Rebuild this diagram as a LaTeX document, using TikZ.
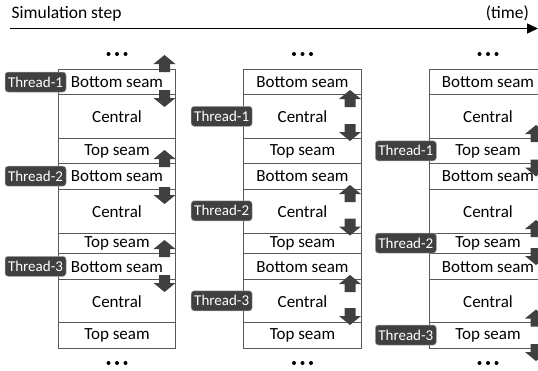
\documentclass[tikz,border=0pt]{standalone}
\usepackage{fontspec}
\setmainfont{Carlito}
\usetikzlibrary{arrows.meta}
\definecolor{boxline}{HTML}{595959}
\definecolor{dark}{HTML}{404040}
\tikzset{
 seg/.style={draw=boxline, line width=0.9pt, minimum width=117.5pt, inner sep=0pt,
   font=\fontsize{17}{19}\selectfont, anchor=north},
 thread/.style={fill=dark, draw=gray!70, line width=0.5pt, rounded corners=3pt, text=white,
   font=\fontsize{15}{17}\selectfont, minimum width=61pt, minimum height=20pt, inner sep=1pt},
 uparr/.pic={\fill[dark] (0,0) -- (11,9) -- (5.5,9) -- (5.5,17) -- (-5.5,17) -- (-5.5,9) -- (-11,9) -- cycle;},
 downarr/.pic={\fill[dark] (0,0) -- (11,-9) -- (5.5,-9) -- (5.5,-17) -- (-5.5,-17) -- (-5.5,-9) -- (-11,-9) -- cycle;},
 dots/.style={fill=black, draw=none, circle, minimum size=4pt, inner sep=0pt},
}
\begin{document}
\begin{tikzpicture}[x=1pt,y=-1pt]
\useasboundingbox (0,0) rectangle (538,370);
\clip (0,0) rectangle (538,370);
% time axis
\coordinate (t0) at (10,28.5);
\coordinate (t1) at (538,28.5);
\draw[line width=1.5pt, -{Triangle[length=11pt,width=10pt]}] (t0) -- (t1);
\node[anchor=base west, font=\fontsize{17.5}{19}\selectfont, inner sep=0pt] (simstep) at (11.5,18.5) {Simulation step};
\node[anchor=base east, font=\fontsize{17.5}{19}\selectfont, inner sep=0pt] (time) at (529,18.5) {(time)};
% columns
\foreach \cx/\c in {117/1, 302.5/2, 488/3} {
  \node[seg, minimum height=25pt]   (c\c r1) at (\cx,69.3)  {Bottom seam};
  \node[seg, minimum height=44pt]   (c\c r2) at (\cx,94.3)  {Central};
  \node[seg, minimum height=25pt]   (c\c r3) at (\cx,138.3) {Top seam};
  \node[seg, minimum height=25.7pt] (c\c r4) at (\cx,163.3) {Bottom seam};
  \node[seg, minimum height=43.5pt] (c\c r5) at (\cx,189)   {Central};
  \node[seg, minimum height=20.8pt] (c\c r6) at (\cx,232.5) {Top seam};
  \node[seg, minimum height=26pt]   (c\c r7) at (\cx,253.3) {Bottom seam};
  \node[seg, minimum height=43pt]   (c\c r8) at (\cx,279.3) {Central};
  \node[seg, minimum height=25.4pt] (c\c r9) at (\cx,322.3) {Top seam};
  \node[dots] (c\c ta) at (\cx-8.5,54) {};
  \node[dots] (c\c tb) at (\cx,54) {};
  \node[dots] (c\c tc) at (\cx+8.5,54) {};
  \node[dots] (c\c ba) at (\cx-8.5,363) {};
  \node[dots] (c\c bb) at (\cx,363) {};
  \node[dots] (c\c bc) at (\cx+8.5,363) {};
}
% thread labels
\node[thread] (th11) at (35.5,82)    {Thread-1};
\node[thread] (th12) at (35.5,176.2) {Thread-2};
\node[thread] (th13) at (35.5,266.3) {Thread-3};
\node[thread] (th21) at (221.7,116.3) {Thread-1};
\node[thread] (th22) at (221.7,210.8) {Thread-2};
\node[thread] (th23) at (221.7,300.8) {Thread-3};
\node[thread] (th31) at (405.8,150.8) {Thread-1};
\node[thread] (th32) at (405.8,243)   {Thread-2};
\node[thread] (th33) at (405.8,335)   {Thread-3};
% exchange arrows, column 1
\pic at (164.5,55)  {uparr};
\pic at (164.5,107) {downarr};
\pic at (164.5,150) {uparr};
\pic at (164.5,204) {downarr};
\pic at (164.5,240) {uparr};
\pic at (164.5,292) {downarr};
% column 2
\pic at (350,90)    {uparr};
\pic at (350,141)   {downarr};
\pic at (350,185)   {uparr};
\pic at (350,235.5) {downarr};
\pic at (350,275)   {uparr};
\pic at (350,325)   {downarr};
% column 3
\pic at (536,125)   {uparr};
\pic at (536,176.5) {downarr};
\pic at (536,220)   {uparr};
\pic at (536,265)   {downarr};
\pic at (536,309.5) {uparr};
\pic at (536,361)   {downarr};
\end{tikzpicture}
\end{document}
